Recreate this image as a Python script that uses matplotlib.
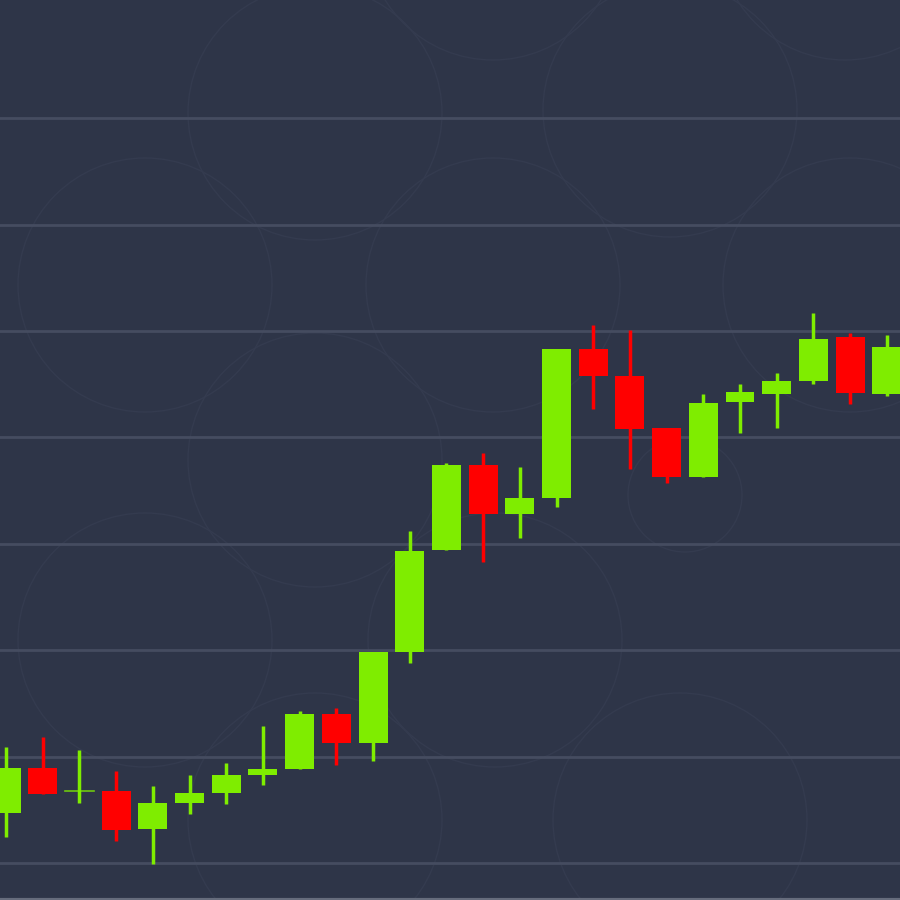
import matplotlib
matplotlib.use("Agg")
import matplotlib.pyplot as plt
from matplotlib.patches import Circle

# 日足ローソク (始値, 高値, 安値, 終値)
opens = [47, 89, 68, 68, 32, 56, 66, 83, 88, 140, 113, 198, 294, 374, 328, 343,
         483, 458, 409, 363, 433, 441, 453, 494, 441]
highs = [109, 118, 106, 86, 72, 83, 94, 129, 143, 146, 198, 312, 376, 385, 372, 483,
         506, 501, 409, 441, 450, 460, 517, 498, 496]
lows = [24, 65, 56, 21, -1, 46, 55, 73, 88, 92, 96, 188, 294, 283, 305, 335,
        427, 370, 357, 363, 404, 409, 450, 431, 439]
closes = [89, 65, 69, 31, 56, 66, 83, 88, 140, 113, 198, 293, 374, 328, 343, 483,
          458, 408, 363, 432, 443, 453, 492, 442, 485]
grid_levels = [0, 100, 200, 300, 400, 500, 600, 700]

# 背景の飾りの円 (ピクセル座標)
rings = [(493, -67, 127), (845, -67, 127), (315, 113, 127), (670, 110, 127),
         (145, 285, 127), (493, 285, 127), (850, 285, 127), (315, 460, 127),
         (685, 495, 57), (145, 640, 127), (495, 640, 127), (315, 820, 127),
         (680, 820, 127)]

bg = "#2e3548"
up_color = "#7fed00"
down_color = "#ff0000"

fig = plt.figure(figsize=(9, 9), dpi=100)
fig.patch.set_facecolor(bg)

deco = fig.add_axes([0, 0, 1, 1])
deco.set_facecolor(bg)
deco.set_xlim(0, 900)
deco.set_ylim(900, 0)
deco.axis("off")
for cx, cy, r in rings:
    deco.add_patch(Circle((cx, cy), r, fill=False, edgecolor="#343b4f", linewidth=1.0))

ax = fig.add_axes([0, 0, 1, 1])
ax.patch.set_alpha(0)
for lv in grid_levels:
    ax.axhline(lv, color="#454c60", linewidth=2, zorder=1)

for i in range(len(opens)):
    o, h, l, c = opens[i], highs[i], lows[i], closes[i]
    col = up_color if c >= o else down_color
    ax.plot([i, i], [l, h], color=col, linewidth=2.5, zorder=2, solid_capstyle="butt")
    body = abs(c - o)
    if body < 2:
        ax.plot([i - 0.4, i + 0.4], [o, o], color=col, linewidth=1.2, zorder=3, alpha=0.8)
    else:
        ax.bar(i, body, bottom=min(o, c), width=0.79, color=col, zorder=3, linewidth=0)

ax.set_xlim(-0.165, 24.36)
ax.set_ylim(-34.8, 811)
for s in ["top", "left", "right"]:
    ax.spines[s].set_visible(False)
ax.spines["bottom"].set_color("#666c7c")
ax.spines["bottom"].set_linewidth(3)
ax.set_xticks([])
ax.set_yticks([])

plt.savefig("out.png", dpi=100, facecolor=bg)
